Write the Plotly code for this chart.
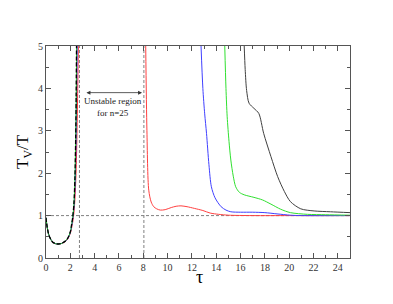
import plotly.graph_objects as go

# Left (low-tau) branches
tau_left_black = [0, 0.1, 0.25, 0.5, 0.75, 1.0, 1.25, 1.5, 1.75, 2.0, 2.1, 2.2, 2.3, 2.38, 2.44, 2.48, 2.51]
tv_left_black = [0.95, 0.72, 0.53, 0.39, 0.34, 0.33, 0.34, 0.38, 0.45, 0.62, 0.78, 0.97, 1.3, 1.9, 2.8, 3.8, 5.0]
tau_left_green = [0, 0.1, 0.25, 0.5, 0.75, 1.0, 1.25, 1.5, 1.75, 2.0, 2.1, 2.2, 2.3, 2.38, 2.44, 2.49, 2.52]
tv_left_green = [0.95, 0.72, 0.53, 0.39, 0.34, 0.33, 0.34, 0.38, 0.45, 0.61, 0.77, 0.96, 1.28, 1.88, 2.8, 3.9, 5.0]
tau_left_blue = [0, 0.1, 0.25, 0.5, 0.75, 1.0, 1.25, 1.5, 1.75, 2.0, 2.1, 2.2, 2.3, 2.4, 2.47, 2.52, 2.56]
tv_left_blue = [0.95, 0.72, 0.53, 0.39, 0.34, 0.33, 0.34, 0.38, 0.44, 0.6, 0.74, 0.92, 1.2, 1.8, 2.8, 3.9, 5.0]
tau_left_red = [0, 0.1, 0.25, 0.5, 0.75, 1.0, 1.25, 1.5, 1.75, 2.0, 2.1, 2.2, 2.3, 2.4, 2.5, 2.57, 2.62, 2.66]
tv_left_red = [0.95, 0.72, 0.53, 0.39, 0.34, 0.33, 0.34, 0.37, 0.43, 0.58, 0.7, 0.85, 1.08, 1.5, 2.3, 3.3, 4.2, 5.0]

# Right (high-tau) branches
tau_right_red = [8.2, 8.3, 8.45, 8.65, 8.86, 9.1, 9.4, 9.8, 10.3, 10.7, 11.1, 11.6, 12.2, 12.9, 13.5, 14.2, 15, 17, 20, 25]
tv_right_red = [5.0, 3.0, 1.6, 1.32, 1.21, 1.16, 1.13, 1.14, 1.19, 1.22, 1.23, 1.21, 1.17, 1.12, 1.06, 1.03, 1.01, 1.0, 1.0, 1.0]
tau_right_blue = [12.75, 12.9, 13.05, 13.2, 13.4, 13.6, 13.9, 14.4, 14.8, 15.2, 16, 17, 18, 19, 20.1, 21, 25]
tv_right_blue = [5.0, 4.0, 3.4, 2.94, 2.2, 1.68, 1.42, 1.21, 1.13, 1.09, 1.08, 1.08, 1.07, 1.04, 1.01, 1.0, 1.0]
tau_right_green = [14.7, 14.8, 14.9, 15.05, 15.2, 15.4, 15.6, 15.9, 16.3, 17.1, 17.8, 18.5, 19.3, 20.1, 21.5, 23, 25]
tv_right_green = [5.0, 4.0, 3.33, 2.75, 2.31, 1.93, 1.68, 1.55, 1.49, 1.43, 1.37, 1.27, 1.15, 1.07, 1.03, 1.02, 1.01]
tau_right_black = [16.3, 16.38, 16.5, 16.7, 17.1, 17.5, 17.9, 18.5, 19.05, 19.6, 20.1, 20.95, 22.05, 23.4, 25]
tv_right_black = [5.0, 4.45, 3.95, 3.65, 3.53, 3.41, 2.94, 2.39, 1.92, 1.57, 1.33, 1.16, 1.11, 1.09, 1.07]

# Reference lines / annotation
unity_level = 1.0
unstable_left = 2.75
unstable_right = 8.05
arrow_tau = [3.2, 7.9]
arrow_level = 3.9
label_tau = 5.55
label_level = 3.55

x_ticks = [0, 2, 4, 6, 8, 10, 12, 14, 16, 18, 20, 22, 24]
y_ticks = [0, 1, 2, 3, 4, 5]

fig = go.Figure()

def add(x, y, color, dash="solid", width=1, shape="spline"):
    fig.add_trace(go.Scatter(x=x, y=y, mode="lines",
                             line=dict(color=color, width=width, dash=dash, shape=shape, smoothing=0.8),
                             showlegend=False, hoverinfo="skip", cliponaxis=True))

grey = "#808080"
# dashed guide lines
add([0, 25], [unity_level, unity_level], grey, dash="3px,2px", width=1, shape="linear")
add([unstable_left, unstable_left], [0, 5], grey, dash="3px,2px", width=1, shape="linear")
add([unstable_right, unstable_right], [0, 5], grey, dash="3px,2px", width=1, shape="linear")

add(tau_left_red, tv_left_red, "#ff3030")
add(tau_left_blue, tv_left_blue, "#3030ff")
add(tau_left_green, tv_left_green, "#20c020")
add(tau_left_black, tv_left_black, "#000000", dash="4px,2px", width=1.3)

add(tau_right_red, tv_right_red, "#ff4040")
add(tau_right_blue, tv_right_blue, "#4040ff")
add(tau_right_green, tv_right_green, "#30e030")
add(tau_right_black, tv_right_black, "#404040")

axis_common = dict(
    showgrid=False, zeroline=False, showline=True, linecolor="#555555", linewidth=1,
    mirror="ticks", ticks="inside", ticklen=5, tickcolor="#555555", tickwidth=1,
    tickfont=dict(family="Liberation Serif", size=10, color="#333333"),
)

fig.update_layout(
    width=393, height=304,
    margin=dict(l=38, r=51, t=38, b=54),
    paper_bgcolor="white", plot_bgcolor="white",
    xaxis=dict(range=[0, 25], tickvals=x_ticks, ticktext=[str(v) for v in x_ticks],
               minor=dict(dtick=1, ticks="inside", ticklen=3, tickcolor="#555555"),
               **axis_common),
    yaxis=dict(range=[0, 5], tickvals=y_ticks, ticktext=[str(v) for v in y_ticks],
               minor=dict(dtick=0.5, ticks="inside", ticklen=3, tickcolor="#555555"),
               **axis_common),
    font=dict(family="Liberation Serif"),
)

# axis titles as annotations for precise placement
fig.add_annotation(x=0.505, y=0, xref="paper", yref="paper", yshift=-19, yanchor="middle",
                   text="τ", showarrow=False,
                   font=dict(family="Liberation Serif", size=18, color="black"))
fig.add_annotation(x=0, y=0.5, xref="paper", yref="paper", xshift=-22, xanchor="center",
                   textangle=-90, text="T<sub>V</sub>/T", showarrow=False,
                   font=dict(family="Liberation Serif", size=17, color="black"))

fig.add_annotation(x=arrow_tau[1], y=arrow_level, ax=arrow_tau[0], ay=arrow_level,
                   xref="x", yref="y", axref="x", ayref="y", text="",
                   showarrow=True, arrowhead=2, arrowside="end+start", arrowsize=1,
                   arrowwidth=0.8, arrowcolor="#333333")
fig.add_annotation(x=label_tau, y=label_level, xref="x", yref="y",
                   text="Unstable region<br>for n=25", showarrow=False,
                   font=dict(family="Liberation Serif", size=9, color="#222222"))

fig.write_html("out.html")
